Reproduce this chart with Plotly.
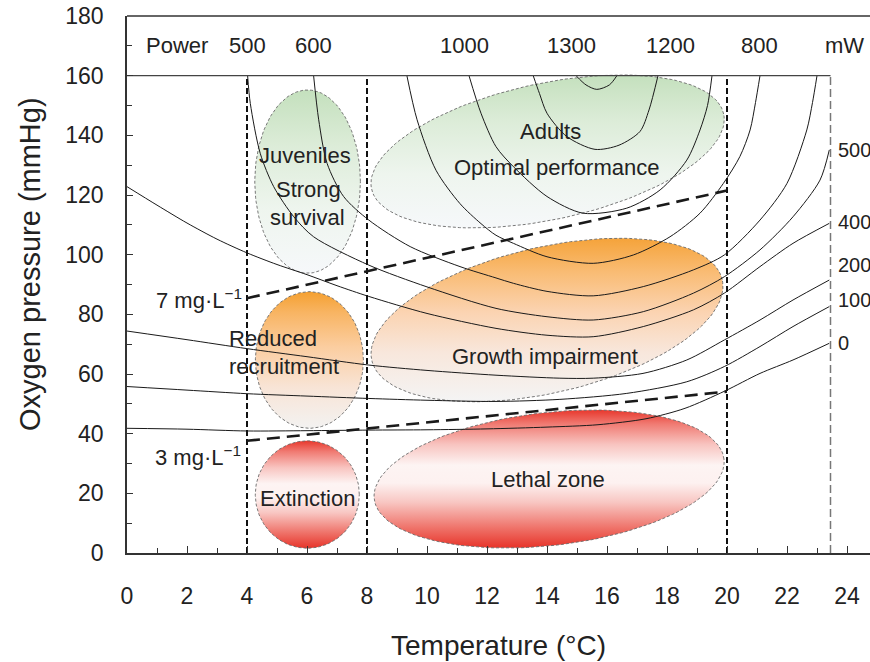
import numpy as np
import plotly.graph_objects as go

# ---------------- data ----------------
# power isopleths (mW): temperature (°C) and oxygen pressure (mmHg)
T_0 = [0, 2, 4, 6, 8.06, 10, 12, 14, 15.7, 17.3, 18.6, 19.93, 21.1, 22.2, 23.41]
P_0 = [41.8, 41.5, 40.9, 41.0, 41.2, 41.3, 41.6, 42.2, 43.0, 45.0, 48.5, 54.3, 60.2, 64.7, 70.3]

T_100 = [0, 2, 4, 6, 8.06, 10, 12.3, 14.43, 16.66, 18.66, 19.91, 21.1, 22.2, 23.41]
P_100 = [55.8, 54.6, 53.4, 52.6, 51.8, 51.2, 50.8, 51.5, 53.5, 57.4, 62.5, 69.2, 75.9, 82.6]

T_200 = [0, 2, 4, 6, 8.06, 10, 12.3, 14.43, 15.54, 17.2, 18.66, 19.91, 21.1, 22.2, 23.41]
P_200 = [74.4, 71.5, 68.5, 65.8, 63.0, 61.2, 59.6, 58.6, 58.6, 60.2, 64.7, 71.4, 78.1, 84.8, 91.5]

T_400 = [0, 1, 2, 3, 4, 5, 6, 7, 8.06, 10, 12.3, 14, 15.54, 17.21, 18.88, 19.91, 21.1, 22.2, 23.41]
P_400 = [122.8, 116.6, 110.6, 105.2, 100.6, 96.7, 93.3, 89.6, 86.0, 80.3, 75.3, 73.0, 72.5, 75.9, 81.5, 87.1, 96.0, 103.8, 110.5]

T_500 = [4.02, 4.11, 4.44, 4.89, 5.56, 6.22, 8.06, 10, 12.3, 14, 15.54, 17.21, 18.88, 19.91, 21.1, 22.2, 23.1, 23.41]
P_500 = [160, 150.7, 134.0, 122.8, 112.7, 106.0, 96.5, 89.2, 82.0, 79.2, 78.1, 80.9, 87.1, 92.6, 101.6, 112.7, 125.0, 135.1]

T_600 = [6.22, 6.39, 6.67, 7.22, 8.06, 9.44, 11.1, 12.3, 12.88, 14, 15.54, 17.21, 18.88, 19.91, 21.1, 22.0, 22.66, 22.85, 23.0]
P_600 = [160, 145.2, 130.6, 119.5, 111.6, 102.7, 96.0, 92.2, 90.4, 87.7, 86.2, 89.3, 94.9, 99.9, 111.6, 123.9, 141.8, 151.0, 160]

T_800 = [9.33, 9.67, 10.3, 11.1, 11.8, 12.3, 12.88, 14.0, 15.54, 16.88, 18.1, 19.1, 19.88, 20.43, 20.77, 20.95, 21.1]
P_800 = [160, 145.2, 128.3, 117.1, 110.4, 106.5, 103.8, 99.3, 97.1, 99.9, 106.0, 113.9, 123.9, 132.9, 141.8, 151.0, 160]

T_1000 = [11.4, 11.8, 12.3, 12.88, 14.0, 15.2, 16.66, 17.77, 18.66, 19.1, 19.35, 19.5]
P_1000 = [160, 147.4, 136.2, 129.5, 119.5, 113.9, 115.6, 121.7, 131.7, 141.8, 150.0, 160]

T_1200 = [13.54, 13.75, 14.0, 14.66, 15.6, 16.4, 17.1, 17.4, 17.7]
P_1200 = [160, 154.0, 147.4, 139.6, 135.3, 136.7, 141.3, 148.5, 160]

T_1300 = [14.97, 15.3, 15.66, 16.08, 16.33]
P_1300 = [160, 156.9, 155.4, 156.9, 160]

# oxygen concentration lines
O2_7_T = [4, 20]
O2_7_P = [85.4, 121.5]
O2_3_T = [4, 20]
O2_3_P = [37.6, 54.1]

# thermal window boundaries
zone_temps = [4, 8, 20]
max_temp = 23.45
top_pressure = 160

# labels
top_power_labels = ["Power", "500", "600", "1000", "1300", "1200", "800", "mW"]
top_power_T = [1.67, 4.0, 6.2, 11.25, 14.83, 18.1, 21.07, 23.9]
right_power_labels = ["500", "400", "200", "100", "0"]
right_power_P = [135.1, 111.0, 96.5, 84.8, 70.3]

# ---------------- layout geometry ----------------
W, H = 870, 662
ML, MR, MT, MB = 127, 0, 16, 109
XMAX = (W - ML - MR) / 30.0
YMAX = 180
XS = (W - ML - MR) / XMAX
YS = (H - MT - MB) / YMAX

FONT = "Liberation Sans, Arial, Helvetica, sans-serif"
TXT = "#222222"


def ellipse(cT, cP, a_px, b_px, ang_deg, n=160):
    t = np.linspace(0, 2 * np.pi, n)
    ph = np.radians(ang_deg)
    dx = a_px * np.cos(t) * np.cos(ph) - b_px * np.sin(t) * np.sin(ph)
    dy = a_px * np.cos(t) * np.sin(ph) + b_px * np.sin(t) * np.cos(ph)
    return cT + dx / XS, cP + dy / YS


green_cs = [[0, "#f6f8fa"], [0.35, "#eef5ee"], [0.7, "#dcecd8"], [1, "#c4e0bd"]]
orange_small_cs = [[0, "#f3f2f1"], [0.3, "#f8e4d6"], [0.6, "#fbcd9f"], [0.85, "#f8b462"], [1, "#f5a030"]]
orange_big_cs = [[0, "#f4f4f4"], [0.3, "#f8e7dc"], [0.55, "#fbd3b1"], [0.8, "#f9bb72"], [1, "#f5a33a"]]
red_cs = [[0, "#e7342a"], [0.15, "#ef756c"], [0.33, "#f8c6c2"], [0.47, "#fdf1f0"], [0.6, "#fdf4f3"],
          [0.75, "#f8c4c0"], [0.9, "#f07a72"], [1, "#e8382d"]]

ellipses = [
    # centre T, centre P, half-width px, half-height px, angle, colorscale
    (6.02, 124.5, 52.8, 91.6, 0, green_cs),
    (14.02, 134.6, 180.0, 68.2, 12, green_cs),
    (6.08, 64.7, 54.0, 68.3, 0, orange_small_cs),
    (14.0, 78.1, 179.8, 72.9, 13, orange_big_cs),
    (14.07, 24.8, 176.0, 66.5, 6.5, red_cs),
    (6.01, 19.6, 52.0, 53.7, 0, red_cs),
]

fig = go.Figure()

for cT, cP, a, b, ang, cs in ellipses:
    ex, ey = ellipse(cT, cP, a, b, ang)
    fig.add_trace(go.Scatter(
        x=ex, y=ey, mode="lines", fill="toself",
        fillgradient=dict(type="vertical", colorscale=cs),
        line=dict(color="#6a6a6a", width=0.9, dash="3px,2px"),
        hoverinfo="skip", showlegend=False))

curves = [(T_0, P_0), (T_100, P_100), (T_200, P_200), (T_400, P_400), (T_500, P_500),
          (T_600, P_600), (T_800, P_800), (T_1000, P_1000), (T_1200, P_1200), (T_1300, P_1300)]
for cx, cy in curves:
    fig.add_trace(go.Scatter(x=cx, y=cy, mode="lines",
                             line=dict(color="#1a1a1a", width=1.0, shape="spline", smoothing=0.8),
                             hoverinfo="skip", showlegend=False))

# boundaries
for zt in zone_temps:
    fig.add_trace(go.Scatter(x=[zt, zt], y=[0, top_pressure], mode="lines",
                             line=dict(color="#111111", width=2, dash="6px,3px"),
                             hoverinfo="skip", showlegend=False))
fig.add_trace(go.Scatter(x=[max_temp, max_temp], y=[0, top_pressure], mode="lines",
                         line=dict(color="#777777", width=1.5, dash="8px,4px"),
                         hoverinfo="skip", showlegend=False))
fig.add_trace(go.Scatter(x=[0, max_temp], y=[top_pressure, top_pressure], mode="lines",
                         line=dict(color="#444444", width=1.3),
                         hoverinfo="skip", showlegend=False))

for ox, oy in [(O2_7_T, O2_7_P), (O2_3_T, O2_3_P)]:
    fig.add_trace(go.Scatter(x=ox, y=oy, mode="lines",
                             line=dict(color="#1a1a1a", width=2.6, dash="13px,7px"),
                             hoverinfo="skip", showlegend=False))

ann = []
for lab, t in zip(top_power_labels, top_power_T):
    ann.append(dict(x=t, y=170, text=lab, showarrow=False, xanchor="center", yanchor="middle",
                    font=dict(size=22, color=TXT, family=FONT)))
for lab, p in zip(right_power_labels, right_power_P):
    ann.append(dict(x=23.62, y=p, text=lab, showarrow=False, xanchor="left", yanchor="middle",
                    font=dict(size=20, color=TXT, family=FONT)))

region_text = [
    ("Juveniles", 5.94, 133.1, "center"),
    ("Strong", 6.05, 121.7, "center"),
    ("survival", 6.02, 112.6, "center"),
    ("Adults", 14.1, 141.2, "center"),
    ("Optimal performance", 14.33, 129.2, "center"),
    ("Reduced", 3.33, 72.0, "left"),
    ("recruitment", 3.33, 62.5, "left"),
    ("Growth impairment", 13.93, 66.0, "center"),
    ("Lethal zone", 14.04, 24.5, "center"),
    ("Extinction", 6.03, 18.4, "center"),
    ("7 mg·L<sup>−1</sup>", 3.9, 85.0, "right"),
    ("3 mg·L<sup>−1</sup>", 3.85, 32.5, "right"),
]
for txt, t, p, xa in region_text:
    ann.append(dict(x=t, y=p, text=txt, showarrow=False, xanchor=xa, yanchor="middle",
                    font=dict(size=22, color=TXT, family=FONT)))

# axis titles (positions given in window pixels)
PW, PH = W - ML - MR, H - MT - MB
ann.append(dict(xref="paper", yref="paper", x=(499 - ML) / PW, y=(H - MB - 645) / PH,
                text="Temperature (°C)", showarrow=False, xanchor="center", yanchor="middle",
                font=dict(size=28, color=TXT, family=FONT)))
ann.append(dict(xref="paper", yref="paper", x=(30 - ML) / PW, y=(H - MB - 264) / PH,
                text="Oxygen pressure (mmHg)", textangle=-90, showarrow=False, xanchor="center",
                yanchor="middle", font=dict(size=29, color=TXT, family=FONT)))

fig.update_layout(
    width=W, height=H,
    margin=dict(l=ML, r=MR, t=MT, b=MB, pad=0),
    paper_bgcolor="white", plot_bgcolor="white",
    showlegend=False,
    annotations=ann,
    shapes=[dict(type="line", xref="paper", yref="paper", x0=0, x1=1, y0=1, y1=1,
                 line=dict(color="#333333", width=1.5))],
    xaxis=dict(range=[0, XMAX], showgrid=False, zeroline=False, showline=True,
               linecolor="#333333", linewidth=1.5, ticks="inside", ticklen=7, tickwidth=1.2,
               tickcolor="#333333", tick0=0, dtick=2, ticklabelstandoff=22,
               tickfont=dict(size=23, color=TXT, family=FONT),
               minor=dict(ticks="inside", ticklen=5, tickwidth=1.2, tickcolor="#333333", dtick=1, tick0=0)),
    yaxis=dict(range=[0, YMAX], showgrid=False, zeroline=False, showline=True,
               linecolor="#333333", linewidth=1.5, ticks="inside", ticklen=6, tickwidth=1.2,
               tickcolor="#333333", tick0=0, dtick=20, ticklabelstandoff=17,
               tickfont=dict(size=23, color=TXT, family=FONT),
               minor=dict(ticks="inside", ticklen=5, tickwidth=1.2, tickcolor="#333333", dtick=10, tick0=0)),
)

fig.write_html(
    "out.html",
    config={"displayModeBar": False},
    post_script="document.body.style.margin='0';document.body.style.padding='0';"
                "document.body.style.overflow='hidden';document.documentElement.style.overflow='hidden';",
)
